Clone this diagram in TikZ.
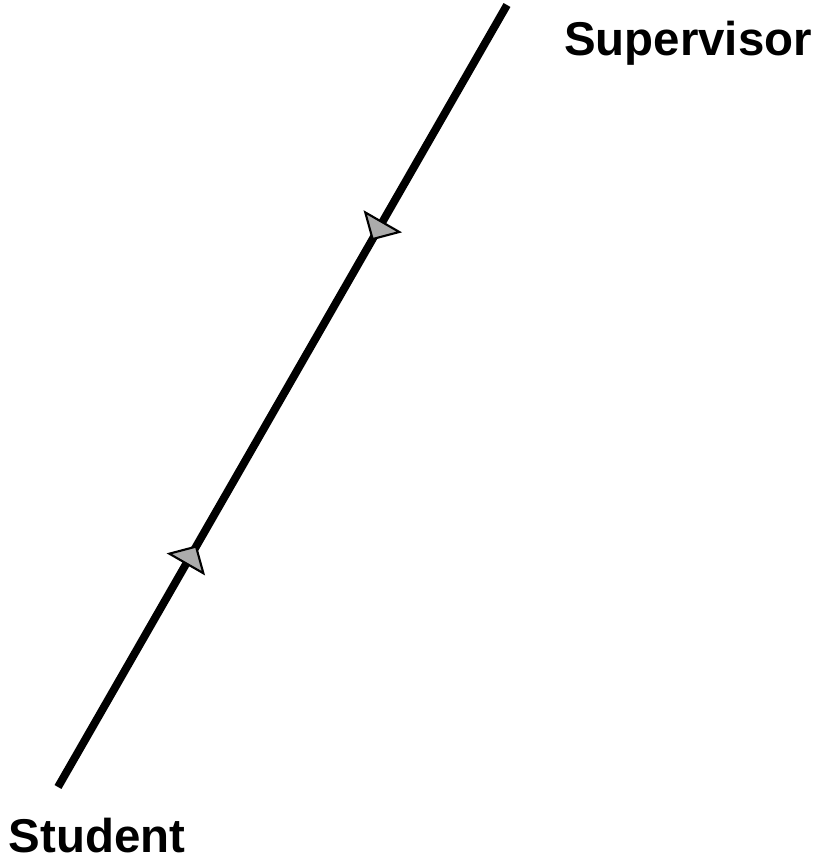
\documentclass[tikz,border=0pt]{standalone}
\usepackage{fontspec}
\setmainfont{Liberation Sans}
\usetikzlibrary{arrows.meta,decorations.markings}
\definecolor{tipGray}{HTML}{ABABAB}

\begin{document}
\begin{tikzpicture}[
  x=0.02cm,y=-0.02cm,
  role/.style={font=\fontsize{27}{31}\selectfont\bfseries,inner sep=0pt,anchor=base},
  flowtip/.tip={Triangle[length=0.44cm,width=0.88cm,fill=tipGray,line width=1.2pt]},
  flow/.style={line width=4.5pt,draw=black,postaction={decorate,decoration={markings,
    mark=at position 0.301 with {\arrow{flowtip}},
    mark=at position 0.691 with {\arrowreversed{flowtip}}}}}
]
\useasboundingbox (0,0) rectangle (818,861);
\node[role] (sup) at (688,56) {Supervisor};
\node[role] (stu) at (97,852) {Student};
\coordinate (supEnd) at (507,5);
\coordinate (stuEnd) at (58,787);
\draw[flow] (supEnd) -- (stuEnd);
\end{tikzpicture}
\end{document}
